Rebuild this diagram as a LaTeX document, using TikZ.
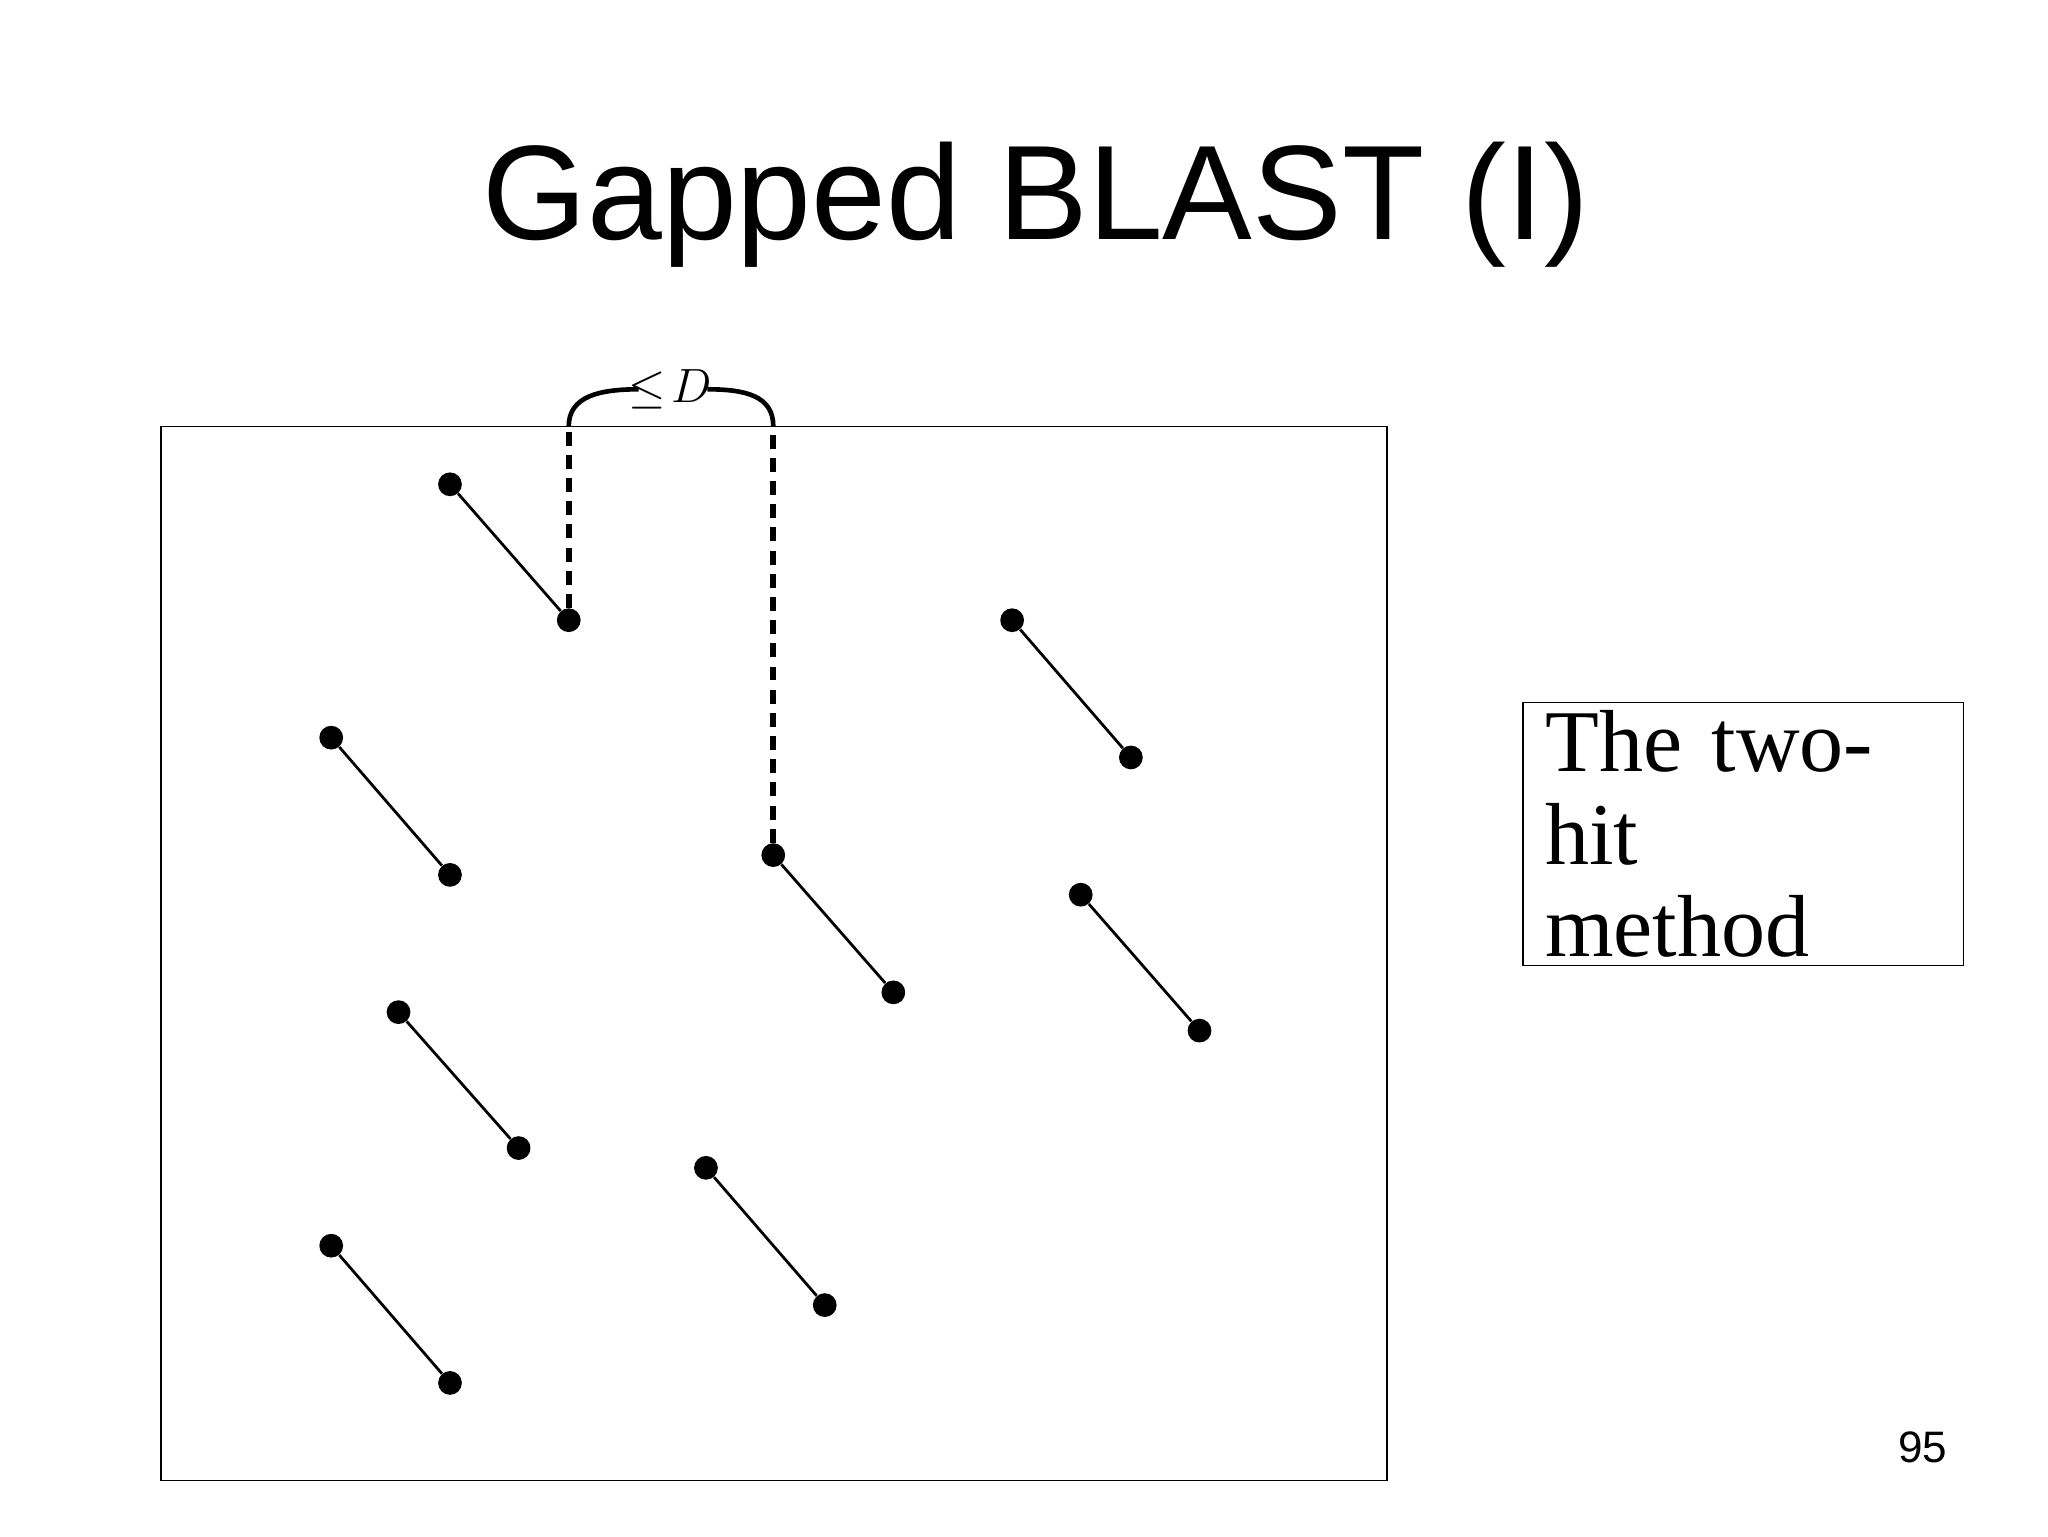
\documentclass[tikz,border=0pt]{standalone}
\usepackage{fontspec}
\setmainfont{Liberation Serif}
\newfontfamily\arialf{Liberation Sans}
\begin{document}
\begin{tikzpicture}[x=0.02cm,y=-0.02cm,
  dot/.style={circle,fill=black,inner sep=0pt,minimum width=0.3cm,minimum height=0.36cm},
  seg/.style={line width=1.2pt},
  dashline/.style={line width=2.5pt,dash pattern=on 6pt off 4pt}]
\useasboundingbox (0,0) rectangle (1552,1164);
\node[font=\arialf\fontsize{58}{60}\selectfont] (title) at (785,155) {Gapped BLAST (I)};
\draw[line width=0.6pt] (122,323) rectangle (1051,1122);
\foreach \n/\ax/\ay/\bx/\by in {a/341/367/431/470, b/251/559/341/663, c/586/648/677/752, d/767/470/857/574, e/819/678/909/781, f/302/767/393/870, g/535/885/625/989, h/251/944/341/1048}{
  \node[dot] (\n1) at (\ax,\ay) {};
  \node[dot] (\n2) at (\bx,\by) {};
  \draw[seg] (\n1) -- (\n2);
}
\coordinate (t1) at (431,323);
\coordinate (t2) at (586,323);
\draw[dashline] (a2) -- (t1);
\draw[dashline] (c1) -- (t2);
\node[font=\fontsize{20}{22}\selectfont\itshape] (le) at (508,295) {$\leq\!D$};
\draw[line width=2pt] (t1) .. controls (431,300) and (455,295) .. (484,295);
\draw[line width=2pt] (t2) .. controls (586,300) and (565,295) .. (536,295);
\node[draw,line width=0.8pt,minimum width=334*0.02cm,minimum height=162*0.02cm,align=left,text width=300*0.02cm,font=\fontsize{38}{40}\selectfont] (box) at (1321,632) {The two-hit\\method};
\node[font=\arialf\fontsize{19}{20}\selectfont] (num) at (1457,1097) {95};
\end{tikzpicture}
\end{document}
